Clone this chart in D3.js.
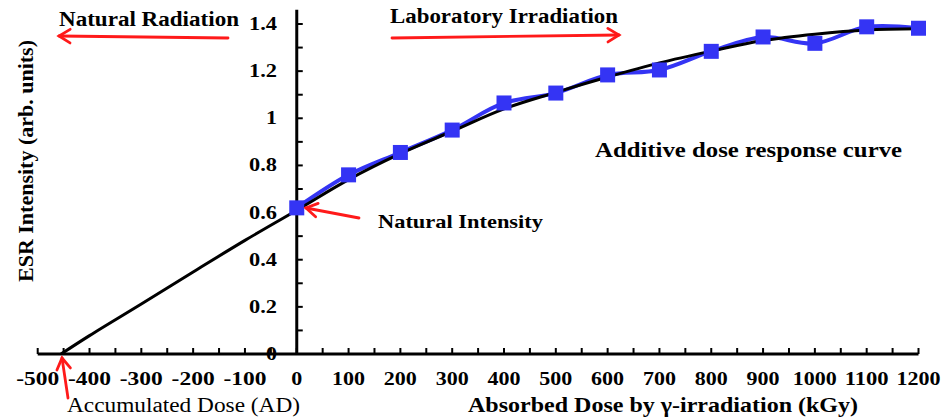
<!DOCTYPE html>
<html>
<head>
<meta charset="utf-8">
<script src="https://cdn.jsdelivr.net/npm/d3@7"></script>
<style>
  html, body { margin: 0; padding: 0; background: #fff; }
  svg { display: block; }
</style>
</head>
<body>
<svg id="chart" width="943" height="419"></svg>
<script>
// Measured ESR intensity at each absorbed dose (kGy)
const doses = [0, 100, 200, 300, 400, 500, 600, 700, 800, 900, 1000, 1100, 1200];
const intensities = [0.62, 0.76, 0.855, 0.95, 1.065, 1.107, 1.184, 1.205, 1.284, 1.345, 1.318, 1.388, 1.382];

// Fitted dose-response curve, extrapolated back to zero intensity
const fitDoses = [-455, -400, -300, -200, -100, 0, 100, 200, 300, 400, 500, 600, 700, 800, 900, 1000, 1100, 1200];
const fitValues = [0, 0.078, 0.212, 0.348, 0.482, 0.61, 0.74, 0.85, 0.945, 1.04, 1.11, 1.175, 1.235, 1.285, 1.33, 1.357, 1.375, 1.38];

const xTickLabels = [-500, -400, -300, -200, -100, 0, 100, 200, 300, 400, 500, 600, 700, 800, 900, 1000, 1100, 1200];
const yTickLabels = [0, 0.2, 0.4, 0.6, 0.8, 1, 1.2, 1.4];
const accumulatedDose = -455;

const FONT = '"Liberation Serif", "DejaVu Serif", "Noto Serif", "Times New Roman", serif';

const svg = d3.select("#chart")
  .attr("font-family", FONT);

const x = d3.scaleLinear().domain([-500, 1200]).range([37.7, 918.5]);
const y = d3.scaleLinear().domain([0, 1.4]).range([354, 24]);
const yTop = 1.46;

const axisW = 3;

// x axis ticks every 50 pointing up
const xTicks = d3.range(-500, 1201, 50);
svg.append("g").selectAll("line").data(xTicks).join("line")
  .attr("x1", d => x(d)).attr("x2", d => x(d))
  .attr("y1", y(0)).attr("y2", y(0) - 6)
  .attr("stroke", "#000").attr("stroke-width", 2);

svg.append("line")
  .attr("x1", x(-500)).attr("x2", x(1200))
  .attr("y1", y(0)).attr("y2", y(0))
  .attr("stroke", "#000").attr("stroke-width", axisW);

// y axis ticks every 0.1 pointing right
const yTicks = d3.range(0, 15).map(i => i / 10);
svg.append("g").selectAll("line").data(yTicks).join("line")
  .attr("x1", x(0)).attr("x2", x(0) + 6)
  .attr("y1", d => y(d)).attr("y2", d => y(d))
  .attr("stroke", "#000").attr("stroke-width", 2);

svg.append("line")
  .attr("x1", x(0)).attr("x2", x(0))
  .attr("y1", y(0)).attr("y2", y(yTop))
  .attr("stroke", "#000").attr("stroke-width", axisW);

// Tick labels
const digitW = 11;
svg.append("g").selectAll("text").data(xTickLabels).join("text")
  .attr("x", d => x(d)).attr("y", 385)
  .attr("text-anchor", "middle")
  .attr("font-size", 19).attr("font-weight", "bold")
  .attr("textLength", d => String(Math.abs(d)).length * digitW + (d < 0 ? 10 : 0))
  .attr("lengthAdjust", "spacingAndGlyphs")
  .text(d => d < 0 ? "-" + Math.abs(d) : d);

svg.append("g").selectAll("text").data(yTickLabels).join("text")
  .attr("x", 277).attr("y", d => y(d) + 6)
  .attr("text-anchor", "end")
  .attr("font-size", 18).attr("font-weight", "bold")
  .attr("textLength", d => String(d).replace(".", "").length * digitW + (String(d).includes(".") ? 6 : 0))
  .attr("lengthAdjust", "spacingAndGlyphs")
  .text(d => d);

// Helper for text stretched to a fixed width
function label(txt, x0, y0, size, width, bold, anchor) {
  return svg.append("text")
    .attr("x", x0).attr("y", y0)
    .attr("text-anchor", anchor || "start")
    .attr("font-size", size)
    .attr("font-weight", bold ? "bold" : "normal")
    .attr("textLength", width)
    .attr("lengthAdjust", "spacingAndGlyphs")
    .text(txt);
}

// Axis titles
label("Absorbed Dose by γ-irradiation (kGy)", 468, 412, 21, 390, true);
label("ESR Intensity (arb. units)", 0, 0, 20, 242, true, "middle")
  .attr("transform", "translate(33,161) rotate(-90)");

// Smooth line generator shared by both series
const smooth = d3.line()
  .x(d => x(d[0])).y(d => y(d[1]))
  .curve(d3.curveCatmullRom.alpha(0.5));
const fitPts = fitDoses.map((d, i) => [d, fitValues[i]]);

// Measured series: smoothed line plus square markers
const blue = "#3434f4";
const pts = doses.map((d, i) => [d, intensities[i]]);
svg.append("path")
  .datum(pts)
  .attr("d", smooth)
  .attr("fill", "none").attr("stroke", blue).attr("stroke-width", 4);

svg.append("path")
  .datum(fitPts)
  .attr("d", smooth)
  .attr("fill", "none").attr("stroke", "#000").attr("stroke-width", 3);

const sq = 15;
svg.append("g").selectAll("rect").data(pts).join("rect")
  .attr("x", d => x(d[0]) - sq / 2).attr("y", d => y(d[1]) - sq / 2)
  .attr("width", sq).attr("height", sq)
  .attr("fill", blue);

// Annotations
const red = "#ff1a1a";
function arrow(x1, y1, x2, y2) {
  const g = svg.append("g").attr("stroke", red).attr("stroke-width", 2.8)
    .attr("fill", "none").attr("stroke-linecap", "round");
  g.append("line").attr("x1", x1).attr("y1", y1).attr("x2", x2).attr("y2", y2);
  const a = Math.atan2(y2 - y1, x2 - x1);
  const L = 13, s = 0.55;
  g.append("path").attr("d",
    `M${x2 - L * Math.cos(a - s)},${y2 - L * Math.sin(a - s)} L${x2},${y2} L${x2 - L * Math.cos(a + s)},${y2 - L * Math.sin(a + s)}`);
}

label("Natural Radiation", 59, 26, 20, 180, true);
arrow(228, 38, 59, 36);

label("Laboratory Irradiation", 390, 23, 20, 228, true);
arrow(392, 38, 619, 35);

label("Additive dose response curve", 595, 157, 21, 307, true);

label("Natural Intensity", 378, 228, 19, 165, true);
arrow(359, 218, 306, 208);

label("Accumulated Dose (AD)", 67, 412, 20, 233, false);
arrow(68, 398, x(accumulatedDose) + 1, 358);
</script>
</body>
</html>
